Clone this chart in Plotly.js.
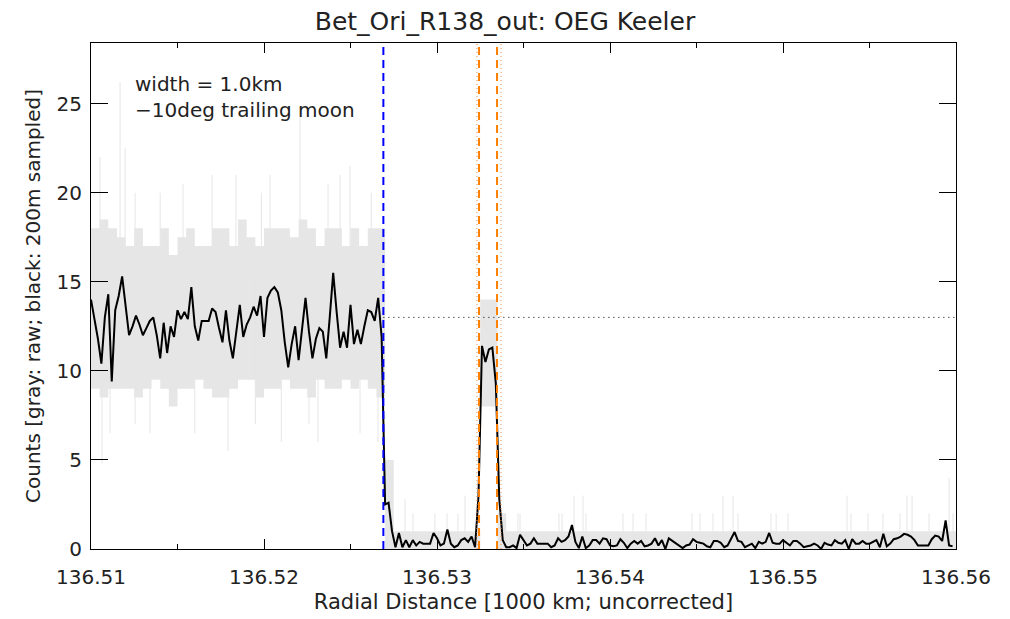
<!DOCTYPE html>
<html>
<head>
<meta charset="utf-8">
<script src="https://cdn.plot.ly/plotly-3.0.1.min.js"></script>
<style>html,body{margin:0;padding:0;background:#fff;}#chart{width:1010px;height:619px;}</style>
</head>
<body>
<div id="chart"></div>
<script>
// ---- data ----
// black: 200 m sampled counts, first sample at 136.5100 (1000 km), step 0.0002
const sampledStart = 136.5100;
const sampledStep = 0.0002;
const sampledCounts = [
14.0,13.0,11.8,10.4,13.0,14.3,9.4,13.4,14.2,15.3,
13.5,12.0,12.5,13.1,12.6,12.0,12.4,12.8,13.0,12.0,
10.7,12.7,11.0,12.5,11.9,13.4,12.9,13.3,12.9,14.7,
12.5,11.7,12.8,12.8,12.8,13.5,13.3,12.4,11.6,13.4,
11.7,10.7,12.3,13.7,11.9,12.6,13.0,13.6,13.1,14.2,
11.9,14.1,14.5,14.7,14.4,13.4,11.6,10.2,11.5,12.5,
10.6,12.5,14.1,12.2,10.7,11.8,12.4,12.2,10.7,13.0,
15.5,13.3,11.3,12.2,11.3,13.7,11.5,12.3,11.5,12.5,
13.4,13.3,12.8,14.1,11.9,2.5,2.6,1.0,0.1,0.9,
0.1,0.5,0.1,0.5,0.2,0.4,0.3,0.3,0.3,0.9,
0.6,0.2,0.3,1.1,0.3,0.1,0.2,0.5,0.6,0.4,
0.7,0.1,3.0,11.4,10.5,11.2,11.3,9.3,2.8,0.5,
0.1,0.1,0.2,0.05,0.8,0.5,0.2,0.3,0.6,0.3,
0.3,0.3,0.3,0.1,0.2,0.6,0.4,0.5,0.7,1.35,
0.4,0.05,0.7,0.05,0.2,0.5,0.5,0.3,0.6,0.55,
0.2,0.15,0.2,0.55,0.35,0.05,0.3,0.45,0.3,0.45,
0.15,0.2,0.3,0.6,0.2,0.5,0.0,0.6,0.45,0.3,
0.2,0.05,0.2,0.25,0.55,0.4,0.35,0.3,0.15,0.1,
0.45,0.45,0.35,0.1,0.2,0.6,0.95,0.45,0.4,0.1,
0.2,0.3,0.05,0.4,0.3,0.4,0.9,0.35,0.3,0.3,
0.5,0.35,0.2,0.45,0.45,0.3,0.1,0.15,0.2,0.3,
0.2,0.0,0.35,0.25,0.2,0.5,0.35,0.3,0.5,0.0,
0.55,0.3,0.3,0.45,0.3,0.3,0.4,0.5,0.1,0.85,
0.15,0.3,0.55,0.6,0.7,0.85,0.8,0.7,0.5,0.2,
0.2,0.2,0.2,0.55,0.75,0.7,0.45,1.6,0.2,0.15
];

// gray: raw counts, summarised as a dense band per 0.0005 bin plus thin spikes
const rawBinStart = 136.5100;
const rawBinStep = 0.0005;
const rawHigh = [
18,18.5,18,17.5,17,18,17,17,18,16.5,
17.5,18,17,17,18,18,17,18.5,17.5,17,
18,18,18,17.5,18.5,18,17,18,18,17,
18,17,18,18,5,1,1,1,1,1,
1,1,1,1,1,14,14,2,1,1,
1,1,1,1,1,1,1,1,1,1,
1,1,1,1,1,1,1,1,1,1,
1,1,1,1,1,1,1,1,1,1,
1,1,1,1,1,1,1,1,1,1,
1,1,1,1,1,1,1,1,1,1
];
const rawLow = [
9,8.5,9,9,9,8.5,9,9.5,9,8,
9,9,9.5,9,8.5,8.5,9,9.5,9.5,8.5,
9,9,9.5,9,9,8.5,9.5,9,9,9.5,
9,9.5,9,8.5,0,0,0,0,0,0,
0,0,0,0,0,8,8,0,0,0,
0,0,0,0,0,0,0,0,0,0,
0,0,0,0,0,0,0,0,0,0,
0,0,0,0,0,0,0,0,0,0,
0,0,0,0,0,0,0,0,0,0,
0,0,0,0,0,0,0,0,0,0
];
const rawSpikeX = [
136.51052,136.51064,136.51110,136.51168,136.51197,136.51255,136.51341,136.51400,136.51532,136.51600,
136.51700,136.51792,136.51838,136.51950,136.51985,136.52035,136.52100,136.52208,136.52260,136.52312,
136.52370,136.52440,136.52497,136.52555,136.52620,136.52659,
136.52815,136.52861,136.52988,136.53058,136.53121,136.53162,136.53468,
136.53480,136.53705,136.53723,136.53792,136.53844,136.53861,136.54075,136.54133,136.54208,136.54474,
136.54520,136.54595,136.54653,136.54711,136.54740,136.54931,136.54960,136.55029,136.55370,136.55393,
136.55491,136.55578,136.55676,136.55717,136.55746,136.55844,136.55960,136.55983
];
const rawSpikeLow = [
10,4.8,6.5,10,10,7,6.5,10,10,6.5,
10,5.5,10,7,10,10,6,10,7,6,
10,10,10,6.5,10,6,
0,0,0,0,0,0,0,
0,0,0,0,0,0,0,0,0,0,
0,0,0,0,0,0,0,0,0,0,
0,0,0,0,0,0,0,0
];
const rawSpikeHigh = [
22,15,15,26.2,22.5,20,15,20,20.5,15,
21,15,21,15,20,21,15,24.8,15,15,
20.5,21,21.5,15,20,15,
2.8,2,2,2,2,3,2,
2,2,2,3,3,2,2,2,2,2,
2,2,3,3,2,2,2,2,3,2,
2,2,2,3,3,2,4,2
];

const edgeBlue = 136.5269;
const edgesOrangeDashed = [136.53243, 136.53347];
const edgesOrangeDotted = [136.53231, 136.53370];
const levelValue = 13;

const titleText = 'Bet_Ori_R138_out: OEG Keeler';
const xTitle = 'Radial Distance [1000 km; uncorrected]';
const yTitle = 'Counts [gray: raw; black: 200m sampled]';
const noteLines = ['width = 1.0km', '\u221210deg trailing moon'];
const xTickVals = [136.51, 136.52, 136.53, 136.54, 136.55, 136.56];
const yTickVals = [0, 5, 10, 15, 20, 25];

// ---- build traces ----
const sampledX = sampledCounts.map((_, i) => +(sampledStart + i * sampledStep).toFixed(5));
const binX = rawHigh.map((_, k) => +(rawBinStart + k * rawBinStep).toFixed(5));
binX.push(136.56);
const hiY = rawHigh.concat([rawHigh[rawHigh.length - 1]]);
const loY = rawLow.concat([rawLow[rawLow.length - 1]]);

const spX = [], spY = [];
rawSpikeX.forEach((x, j) => { spX.push(x, x, null); spY.push(rawSpikeLow[j], rawSpikeHigh[j], null); });

const gray = '#e6e6e6';
const FONT = 'DejaVu Sans, sans-serif';
const TXT = '#222';

const traces = [
  {x: binX, y: loY, mode: 'lines', line: {width: 0, shape: 'hv', color: gray}, hoverinfo: 'skip', showlegend: false},
  {x: binX, y: hiY, mode: 'lines', line: {width: 0, shape: 'hv', color: gray}, fill: 'tonexty', fillcolor: gray, hoverinfo: 'skip', showlegend: false},
  {x: spX, y: spY, mode: 'lines', line: {width: 1, color: gray}, hoverinfo: 'skip', showlegend: false, connectgaps: false},
  {x: sampledX, y: sampledCounts, mode: 'lines', line: {width: 2, color: '#000'}, showlegend: false}
];

const shapes = [];
shapes.push({type: 'line', xref: 'x', yref: 'y', x0: edgeBlue, x1: 136.56, y0: levelValue, y1: levelValue,
  line: {color: '#000', width: 1, dash: '1px,4px'}});
edgesOrangeDotted.forEach(x => shapes.push({type: 'line', xref: 'x', yref: 'paper', x0: x, x1: x, y0: 0, y1: 1,
  line: {color: '#e89050', width: 1, dash: '1px,3px'}}));
shapes.push({type: 'line', xref: 'x', yref: 'paper', x0: edgeBlue, x1: edgeBlue, y0: 0, y1: 1,
  line: {color: '#0000ff', width: 2, dash: '8px,5px'}});
edgesOrangeDashed.forEach(x => shapes.push({type: 'line', xref: 'x', yref: 'paper', x0: x, x1: x, y0: 0, y1: 1,
  line: {color: '#ff8000', width: 2, dash: '8px,5px'}}));

const annotations = noteLines.map((t, i) => ({
  xref: 'paper', yref: 'paper', x: 0.048, y: 0.918 - i * 0.051, xanchor: 'left', yanchor: 'middle',
  text: t, showarrow: false, font: {family: FONT, size: 20, color: TXT}
}));

const layout = {
  width: 1010, height: 619,
  margin: {l: 91, r: 54, t: 43, b: 70},
  paper_bgcolor: '#fff', plot_bgcolor: '#fff',
  font: {family: FONT, size: 20, color: TXT},
  title: {text: titleText, font: {family: FONT, size: 25, color: TXT}, x: 0.5, xanchor: 'center', y: 0.966, yanchor: 'middle'},
  xaxis: {
    range: [136.51, 136.56], tickvals: xTickVals, ticktext: xTickVals.map(v => v.toFixed(2)),
    showgrid: false, zeroline: false, showline: true, linecolor: '#000', linewidth: 1, mirror: 'ticks',
    ticks: 'inside', ticklen: 10, tickcolor: '#000', tickwidth: 1, ticklabelstandoff: 10,
    minor: {ticks: 'inside', ticklen: 5, dtick: 0.005, tick0: 136.51, tickcolor: '#000', showgrid: false},
    title: {text: xTitle, font: {family: FONT, size: 21, color: TXT}, standoff: 6},
    tickfont: {family: FONT, size: 20, color: TXT}
  },
  yaxis: {
    range: [0, 28.4], tickvals: yTickVals,
    showgrid: false, zeroline: false, showline: true, linecolor: '#000', linewidth: 1, mirror: 'ticks',
    ticks: 'inside', ticklen: 17, tickcolor: '#000', tickwidth: 1, ticklabelstandoff: 4,
    title: {text: yTitle, font: {family: FONT, size: 20, color: TXT}, standoff: 10},
    tickfont: {family: FONT, size: 20, color: TXT}
  },
  shapes: shapes,
  annotations: annotations
};

Plotly.newPlot('chart', traces, layout, {staticPlot: true, displayModeBar: false});
</script>
</body>
</html>
